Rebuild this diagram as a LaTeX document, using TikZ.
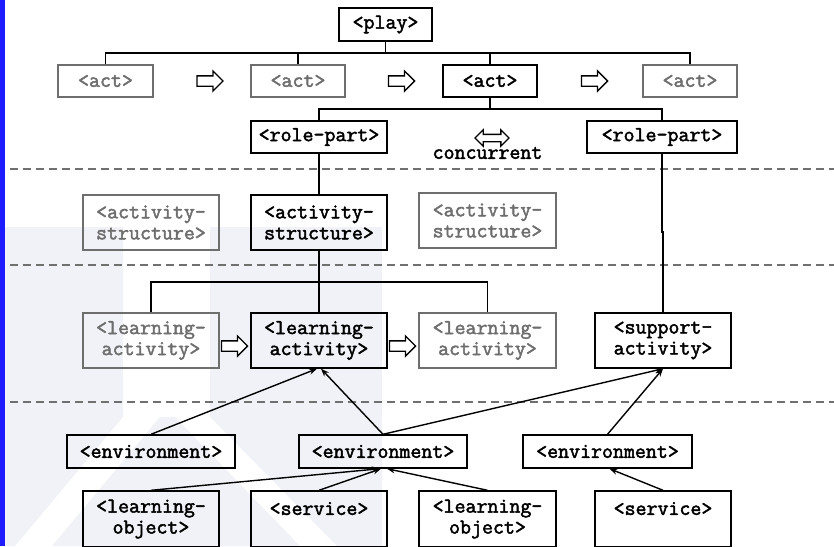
\documentclass[tikz,border=0pt]{standalone}
\usepackage{fontspec}
\newfontfamily\cb{Latin Modern Mono}[FakeBold=2.2]
\usetikzlibrary{arrows.meta,shapes.arrows}
\definecolor{gr}{HTML}{6E6E6E}
\definecolor{dash}{HTML}{707070}
\definecolor{wm}{HTML}{F1F2F8}
\definecolor{bar}{HTML}{1C1CFF}
\tikzset{
  box/.style={draw=black, text=black, line width=1.4pt, inner sep=0pt, align=center,
    font=\cb\fontsize{21.3}{21}\selectfont},
  gbox/.style={box, draw=gr, text=gr},
  wide/.style={minimum width=#1},
  hs/.style={minimum height=33pt},
  ht/.style={minimum height=55pt},
  conn/.style={line width=1.4pt},
  arr/.style={line width=1.4pt, -{Stealth[length=8pt,width=6pt]}},
  sep/.style={draw=dash, line width=1.5pt, dash pattern=on 8pt off 5pt},
  next/.style={single arrow, draw=black, fill=white, line width=1.3pt, inner xsep=0pt,
    inner ysep=4.5pt, minimum height=26pt, single arrow head extend=5pt},
  conc/.style={double arrow, draw=black, fill=white, line width=1.3pt, inner xsep=0pt,
    inner ysep=3pt, minimum height=34pt, double arrow head extend=4.5pt}
}
\begin{document}
\begin{tikzpicture}[x=1pt,y=-1pt]
\useasboundingbox (0,0) rectangle (834,546);
% watermark
\fill[wm] (5,227) rectangle (123,417);
\fill[wm] (210,227) rectangle (382,417);
\fill[wm] (5,417) -- (123,417) -- (15,546) -- (5,546) -- cycle;
\fill[wm] (160,417) -- (175,417) -- (300,546) -- (52,546) -- cycle;
\fill[wm] (210,417) -- (382,417) -- (382,546) -- (337,546) -- cycle;
% blue bar
\fill[bar] (0,0) rectangle (5,546);

% separators
\coordinate (s1a) at (10,169); \coordinate (s1b) at (834,169);
\coordinate (s2a) at (10,265); \coordinate (s2b) at (834,265);
\coordinate (s3a) at (10,402); \coordinate (s3b) at (834,402);
\draw[sep] (s1a) -- (s1b);
\draw[sep] (s2a) -- (s2b);
\draw[sep] (s3a) -- (s3b);

% nodes
\node[box, wide=93pt, hs] (play) at (385.5,24.5) {<play>};
\node[gbox, wide=95pt, minimum height=32pt] (act1) at (105.5,81) {<act>};
\node[gbox, wide=94pt, minimum height=32pt] (act2) at (298,81) {<act>};
\node[box, wide=94pt, minimum height=32pt] (act3) at (490,81) {<act>};
\node[gbox, wide=94pt, minimum height=32pt] (act4) at (690,81) {<act>};
\node[next] (n1) at (207.5,81) {};
\node[next] (n2) at (399,81) {};
\node[next] (n3) at (592,81) {};

\node[box, wide=136pt, minimum height=32pt] (rp1) at (319,137) {<role-part>};
\node[box, wide=150pt, minimum height=32pt] (rp2) at (662,137) {<role-part>};
\node[conc] (cc) at (492,138) {};
\node[font=\cb\fontsize{21.3}{21}\selectfont, inner sep=0pt] (cct) at (487.5,153) {concurrent};

\node[gbox, wide=136pt, ht] (as1) at (151,222.5) {<activity-\\structure>};
\node[box, wide=136pt, ht] (as2) at (319,222.5) {<activity-\\structure>};
\node[gbox, wide=137pt, ht] (as3) at (487.5,220.5) {<activity-\\structure>};

\node[gbox, wide=136pt, ht] (la1) at (151,340.5) {<learning-\\activity>};
\node[box, wide=136pt, ht] (la2) at (319,340.5) {<learning-\\activity>};
\node[gbox, wide=137pt, ht] (la3) at (487.5,340.5) {<learning-\\activity>};
\node[box, wide=136pt, ht] (sa) at (663,340.5) {<support-\\activity>};
\node[next] (n4) at (232,346) {};
\node[next] (n5) at (400,346) {};

\node[box, wide=168pt, hs] (env1) at (151,451.5) {<environment>};
\node[box, wide=168pt, hs] (env2) at (383,451.5) {<environment>};
\node[box, wide=169pt, hs] (env3) at (607.5,451.5) {<environment>};

\node[box, wide=136pt, minimum height=56pt] (lo1) at (151,519) {<learning-\\object>};
\node[box, wide=136pt, minimum height=56pt] (sv1) at (319,519) {<service>\\\phantom{x}};
\node[box, wide=137pt, minimum height=56pt] (lo2) at (487.5,519) {<learning-\\object>};
\node[box, wide=136pt, minimum height=56pt] (sv2) at (663,519) {<service>\\\phantom{x}};

% tree connectors
\coordinate (j1) at (385.5,53);
\draw[conn] (play.south) -- (j1);
\draw[conn] (act1.north) |- (j1) -| (act4.north);
\draw[conn] (act2.north) -- (act2.north |- j1);
\draw[conn] (act3.north) -- (act3.north |- j1);

\coordinate (j2) at (490,109);
\draw[conn] (act3.south) -- (j2);
\draw[conn] (rp1.north) |- (j2) -| (rp2.north);

\draw[conn] (rp1.south) -- (as2.north);
\coordinate (jog) at (663,232);
\draw[conn] (rp2.south) -- (rp2.south |- jog) -- (jog) -- (sa.north);

\coordinate (j3) at (319,282);
\draw[conn] (as2.south) -- (la2.north);
\draw[conn] (la1.north) |- (j3) -| (la3.north);

% arrows
\draw[arr] (env1.north) -- ([xshift=-2pt]la2.south);
\draw[arr] (env2.north) -- ([xshift=2pt]la2.south);
\draw[arr] (env2.north) -- (sa.south);
\draw[arr] (env3.north) -- (sa.south);
\draw[arr] (lo1.north) -- ([xshift=-3pt]env2.south);
\draw[arr] (sv1.north) -- ([xshift=-2pt]env2.south);
\draw[arr] (lo2.north) -- ([xshift=4pt]env2.south);
\draw[arr] (sv2.north) -- ([xshift=2pt]env3.south);
\end{tikzpicture}
\end{document}
